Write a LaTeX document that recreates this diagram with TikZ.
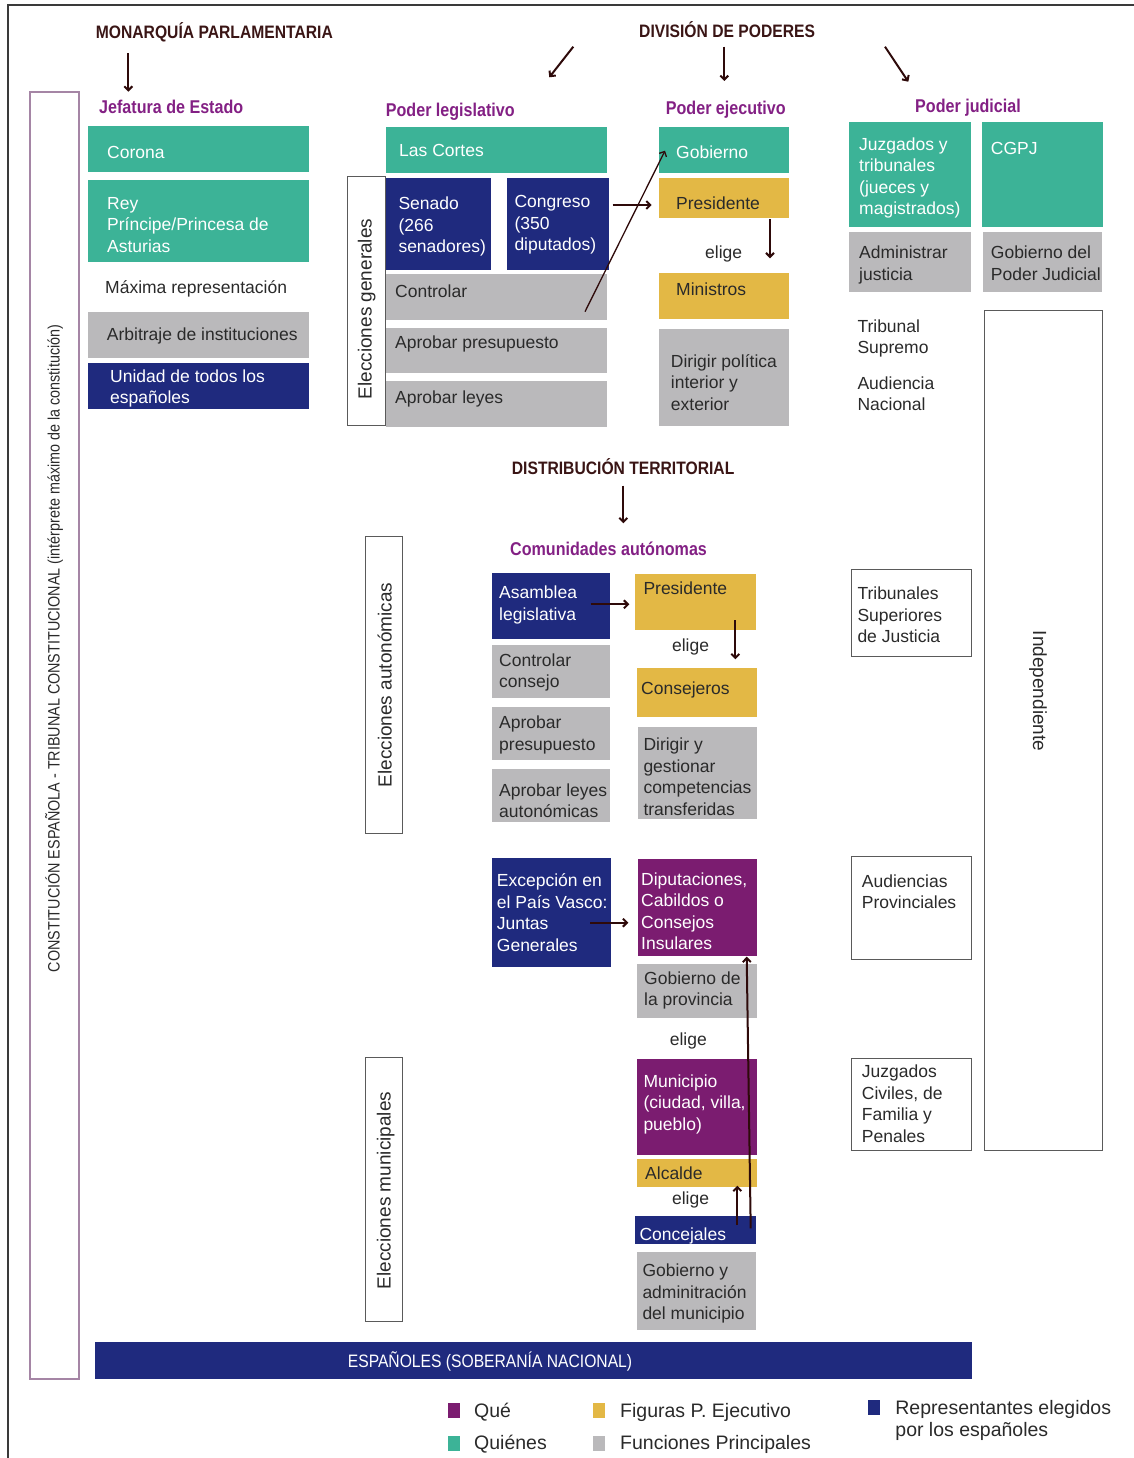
\documentclass[tikz,border=0pt]{standalone}
\usepackage{fontspec}
\setmainfont{Liberation Sans}
\newfontfamily\condfont[FakeStretch=0.87]{Liberation Sans}
\usetikzlibrary{arrows.meta}
\definecolor{teal1}{HTML}{3CB397}
\definecolor{navy1}{HTML}{1F2A7E}
\definecolor{gray1}{HTML}{BAB9BB}
\definecolor{yell1}{HTML}{E3B845}
\definecolor{purp1}{HTML}{7B1C70}
\definecolor{headp}{HTML}{832084}
\definecolor{titc}{HTML}{3A1515}
\definecolor{arrc}{HTML}{2E0A0A}
\definecolor{mauve}{HTML}{A585A5}
\definecolor{txtd}{HTML}{2A2A2A}
\definecolor{outl}{HTML}{5A5A5A}
\definecolor{framec}{HTML}{3A3A3A}
\newcommand\bodyf{\fontsize{17.5}{21.5}\selectfont}
\newcommand\titf{\condfont\bfseries\fontsize{18}{21}\selectfont}
\newcommand\headf{\condfont\bfseries\fontsize{18.5}{21}\selectfont}
\newcommand\rotf{\fontsize{19}{22}\selectfont}
\newcommand\legf{\fontsize{19.5}{22}\selectfont}
\newcommand\constf{\condfont\fontsize{16.5}{19}\selectfont}
\newcommand\espf{\condfont\fontsize{18}{21}\selectfont}
\tikzset{
 bx/.style={inner sep=0pt, outer sep=0pt, anchor=north west, draw=none},
 ob/.style={inner sep=0pt, outer sep=0pt, anchor=north west, draw=outl, line width=1pt, fill=white},
 sl/.style={text height=13pt, text depth=4pt},
 tw/.style={inner sep=0pt, anchor=west, align=left, font=\bodyf, text=white},
 td/.style={tw, text=txtd},
 ttl/.style={inner sep=0pt, anchor=west, font=\titf, text=titc, sl},
 hd/.style={inner sep=0pt, anchor=west, font=\headf, text=headp, sl},
 rot/.style={inner sep=0pt, font=\rotf, text=txtd, sl},
 arr/.style={draw=arrc, line width=2pt, -{Straight Barb[length=4pt,width=8pt]}},
 leg/.style={inner sep=0pt, anchor=west, align=left, font=\legf, text=txtd},
}
\newcommand\mybox[6]{\node[bx,fill=#6,minimum width=#4pt,minimum height=#5pt] (#1) at (#2,#3) {};}
\newcommand\myout[5]{\node[ob,minimum width=#4pt,minimum height=#5pt] (#1) at (#2,#3) {};}
\begin{document}
\begin{tikzpicture}[x=1pt,y=-1pt]
\useasboundingbox (0,0) rectangle (1134,1458);
% outer frame
\coordinate (fbl) at (8,1458);
\coordinate (ftl) at (8,5);
\coordinate (ftr) at (1134,5);
\draw[framec, line width=2pt] (fbl) -- (ftl) -- (ftr);
% constitution box
\node[bx, draw=mauve, line width=2pt, minimum width=48.5pt, minimum height=1286pt] (const) at (30,92.5) {};
\node[rot, font=\constf, rotate=90] (constT) at (55,648.5) {CONSTITUCIÓN ESPAÑOLA - TRIBUNAL CONSTITUCIONAL (intérprete máximo de la constitución)};

% titles
\node[ttl] (monT) at (95.7,33.7) {MONARQUÍA PARLAMENTARIA};
\node[ttl] (divT) at (639,32.7) {DIVISIÓN DE PODERES};
\node[ttl] (distT) at (511.7,470.3) {DISTRIBUCIÓN TERRITORIAL};
% headings
\node[hd] (jefT) at (99,109.3) {Jefatura de Estado};
\node[hd] (legT) at (385.7,112) {Poder legislativo};
\node[hd] (ejeT) at (665.7,110.3) {Poder ejecutivo};
\node[hd] (judT) at (915,108) {Poder judicial};
\node[hd] (comT) at (510,551) {Comunidades autónomas};

% ---- Jefatura de Estado
\mybox{corona}{88}{126.5}{221}{46}{teal1}
\mybox{rey}{88}{180}{221}{81.5}{teal1}
\mybox{arbi}{88}{312.3}{221}{45.4}{gray1}
\mybox{unidad}{88}{363.3}{221}{46}{navy1}
\node[tw, sl] (coronaT) at (107,153.7) {Corona};
\node[tw] (reyT) at (107,224.9) {Rey\\Príncipe/Princesa de\\Asturias};
\node[td, sl] (maxT) at (105,289.3) {Máxima representación};
\node[td, sl] (arbiT) at (106.7,336.3) {Arbitraje de instituciones};
\node[tw] (unidadT) at (110,388.3) {Unidad de todos los\\españoles};

% ---- Poder legislativo
\myout{elecG}{347.7}{176.7}{37.3}{248.3}
\node[rot, rotate=90] (elecGT) at (367,309) {Elecciones generales};
\mybox{cortes}{385.7}{126.7}{221}{46}{teal1}
\mybox{senado}{385.7}{177.7}{105.3}{92.3}{navy1}
\mybox{congreso}{506.7}{177.7}{102.6}{92.3}{navy1}
\mybox{controlar}{385.7}{274.3}{221}{46}{gray1}
\mybox{presup}{385.7}{327.7}{221}{45.6}{gray1}
\mybox{leyes}{385.7}{381}{221}{45.7}{gray1}
\node[tw, sl] (cortesT) at (399,152) {Las Cortes};
\node[tw] (senadoT) at (398.3,226.5) {Senado\\(266\\senadores)};
\node[tw] (congresoT) at (514.3,224.8) {Congreso\\(350\\diputados)};
\node[td, sl] (controlarT) at (395,292.7) {Controlar};
\node[td, sl] (presupT) at (395,343.7) {Aprobar presupuesto};
\node[td, sl] (leyesT) at (395,399.3) {Aprobar leyes};

% ---- Poder ejecutivo
\mybox{gobierno}{659}{126.7}{130}{46}{teal1}
\mybox{presi}{659}{177.7}{130}{40.6}{yell1}
\mybox{ministros}{659}{273.3}{130}{46}{yell1}
\mybox{dirigir}{659}{329.3}{130}{96.7}{gray1}
\node[tw, sl] (gobiernoT) at (676,153.7) {Gobierno};
\node[td, sl] (presiT) at (676,205.3) {Presidente};
\node[td, sl, anchor=center] (eligeE) at (723.7,254.3) {elige};
\node[td, sl] (ministrosT) at (676,291.3) {Ministros};
\node[td] (dirigirT) at (670.7,382.5) {Dirigir política\\interior y\\exterior};

% ---- Poder judicial
\mybox{juzgados}{849}{122.3}{122}{104.4}{teal1}
\mybox{cgpj}{981.7}{122.3}{121.6}{104.4}{teal1}
\mybox{admin}{849}{231.7}{122}{60}{gray1}
\mybox{gobpj}{983}{231.7}{119.3}{60}{gray1}
\node[tw] (juzgadosT) at (859,178) {Juzgados y\\tribunales\\(jueces y\\magistrados)};
\node[tw, sl] (cgpjT) at (990.7,150.3) {CGPJ};
\node[td] (adminT) at (859,264.8) {Administrar\\justicia};
\node[td] (gobpjT) at (990.7,263.2) {Gobierno del\\Poder Judicial};
\node[td] (tsT) at (857.3,338.5) {Tribunal\\Supremo};
\node[td] (anT) at (857.3,393.5) {Audiencia\\Nacional};
\myout{indep}{984.3}{310}{118}{840.5}
\node[rot, rotate=-90] (indepT) at (1037.5,691) {Independiente};
\myout{tsj}{851.5}{569.5}{120}{86.8}
\myout{audP}{851.5}{856.3}{120}{103.3}
\myout{juzC}{851.5}{1058.4}{120}{91.8}
\node[td] (tsjT) at (857.3,615) {Tribunales\\Superiores\\de Justicia};
\node[td] (audPT) at (861.7,891.6) {Audiencias\\Provinciales};
\node[td] (juzCT) at (861.7,1103.7) {Juzgados\\Civiles, de\\Familia y\\Penales};

% ---- Comunidades autónomas
\myout{elecA}{365.7}{536.7}{37}{296.6}
\node[rot, rotate=90] (elecAT) at (387,685) {Elecciones autonómicas};
\mybox{asamblea}{491.7}{572.7}{118.3}{66.3}{navy1}
\mybox{ctrlcons}{491.7}{645}{118.3}{53.3}{gray1}
\mybox{presupA}{491.7}{706.7}{118.3}{53.3}{gray1}
\mybox{leyesA}{491.7}{769}{118.3}{53.3}{gray1}
\mybox{presiA}{635.3}{574}{120.4}{56}{yell1}
\mybox{consej}{636.7}{668.3}{120.6}{48.4}{yell1}
\mybox{dirigirA}{637.7}{727.3}{119}{92}{gray1}
\node[tw] (asambleaT) at (499,604.8) {Asamblea\\legislativa};
\node[td] (ctrlconsT) at (499,672.5) {Controlar\\consejo};
\node[td] (presupAT) at (499,734.8) {Aprobar\\presupuesto};
\node[td] (leyesAT) at (499,800.8) {Aprobar leyes\\autonómicas};
\node[td, sl] (presiAT) at (643.3,589.7) {Presidente};
\node[td, sl, anchor=center] (eligeA) at (690.5,647) {elige};
\node[td, sl] (consejT) at (641,690.3) {Consejeros};
\node[td] (dirigirAT) at (643.3,776.8) {Dirigir y\\gestionar\\competencias\\transferidas};

% ---- Provincias y municipios
\mybox{excep}{491.7}{858.3}{119.3}{108.4}{navy1}
\mybox{diput}{637.7}{859.3}{119.6}{96.4}{purp1}
\mybox{gobprov}{637.3}{964.3}{119.7}{54}{gray1}
\mybox{munic}{637.3}{1059.3}{120}{95.7}{purp1}
\mybox{alcalde}{636.7}{1159.3}{120.6}{27.4}{yell1}
\mybox{concej}{635}{1215.7}{121}{28.6}{navy1}
\mybox{gobmun}{637.3}{1251.7}{119}{78.3}{gray1}
\node[tw] (excepT) at (496.7,912.5) {Excepción en\\el País Vasco:\\Juntas\\Generales};
\node[tw] (diputT) at (641,911.3) {Diputaciones,\\Cabildos o\\Consejos\\Insulares};
\node[td] (gobprovT) at (644,990.5) {Gobierno de\\la provincia};
\node[td, sl, anchor=center] (eligeP) at (688.3,1041) {elige};
\node[tw] (municT) at (643.3,1104.3) {Municipio\\(ciudad, villa,\\pueblo)};
\node[td, sl] (alcaldeT) at (645,1175.3) {Alcalde};
\node[td, sl, anchor=center] (eligeM) at (690.5,1200.3) {elige};
\node[tw, sl] (concejT) at (639.3,1236.3) {Concejales};
\node[td] (gobmunT) at (642.3,1293.7) {Gobierno y\\adminitración\\del municipio};
\myout{elecM}{365.7}{1057.3}{37}{264.4}
\node[rot, rotate=90] (elecMT) at (386,1190.5) {Elecciones municipales};

% ---- Españoles
\mybox{espan}{95}{1341.5}{877}{37.5}{navy1}
\node[inner sep=0pt, sl, font=\espf, text=white] (espanT) at (490,1362.7) {ESPAÑOLES (SOBERANÍA NACIONAL)};

% ---- Legend
\mybox{legQ}{448}{1402.5}{12}{15}{purp1}
\mybox{legW}{448}{1435.5}{12}{15}{teal1}
\mybox{legF}{593}{1402.5}{12}{15}{yell1}
\mybox{legG}{593}{1435.5}{12}{15}{gray1}
\mybox{legR}{868}{1400}{12}{15}{navy1}
\node[leg, sl] (legQT) at (474,1412.7) {Qué};
\node[leg, sl] (legWT) at (474,1445.3) {Quiénes};
\node[leg, sl] (legFT) at (620,1413) {Figuras P. Ejecutivo};
\node[leg, sl] (legGT) at (620,1445.3) {Funciones Principales};
\node[leg] (legRT) at (895.2,1420.3) {Representantes elegidos\\por los españoles};

% ---- Arrows
\coordinate (a1s) at (128.3,53.3);  \coordinate (a1e) at (128.3,91.7);
\coordinate (a2s) at (573.3,46.7);  \coordinate (a2e) at (549.3,77.3);
\coordinate (a3s) at (724.3,46.7);  \coordinate (a3e) at (724.3,81);
\coordinate (a4s) at (885,46.7);    \coordinate (a4e) at (908.3,81.7);
\coordinate (a5s) at (623.3,485.7); \coordinate (a5e) at (623.3,523.3);
\coordinate (a6s) at (612.7,205);   \coordinate (a6e) at (651.7,205);
\coordinate (a7s) at (585,311.7);   \coordinate (a7e) at (665,150.7);
\coordinate (a8s) at (770,219.3);   \coordinate (a8e) at (770,258.3);
\coordinate (a9s) at (590.7,604.3); \coordinate (a9e) at (629.3,604.3);
\coordinate (a10s) at (735.3,620);  \coordinate (a10e) at (735.3,659.3);
\coordinate (a11s) at (590,922.7);  \coordinate (a11e) at (628.3,922.7);
\coordinate (a12s) at (737.3,1225); \coordinate (a12e) at (737.3,1185.7);
\coordinate (a13s) at (750.7,1228.3); \coordinate (a13e) at (746.7,956.7);
\draw[arr] (a1s) -- (a1e);
\draw[arr] (a2s) -- (a2e);
\draw[arr] (a3s) -- (a3e);
\draw[arr] (a4s) -- (a4e);
\draw[arr] (a5s) -- (a5e);
\draw[arr] (a6s) -- (a6e);
\draw[arr, line width=1.3pt] (a7s) -- (a7e);
\draw[arr] (a8s) -- (a8e);
\draw[arr] (a9s) -- (a9e);
\draw[arr] (a10s) -- (a10e);
\draw[arr] (a11s) -- (a11e);
\draw[arr] (a12s) -- (a12e);
\draw[arr] (a13s) -- (a13e);
\end{tikzpicture}
\end{document}
